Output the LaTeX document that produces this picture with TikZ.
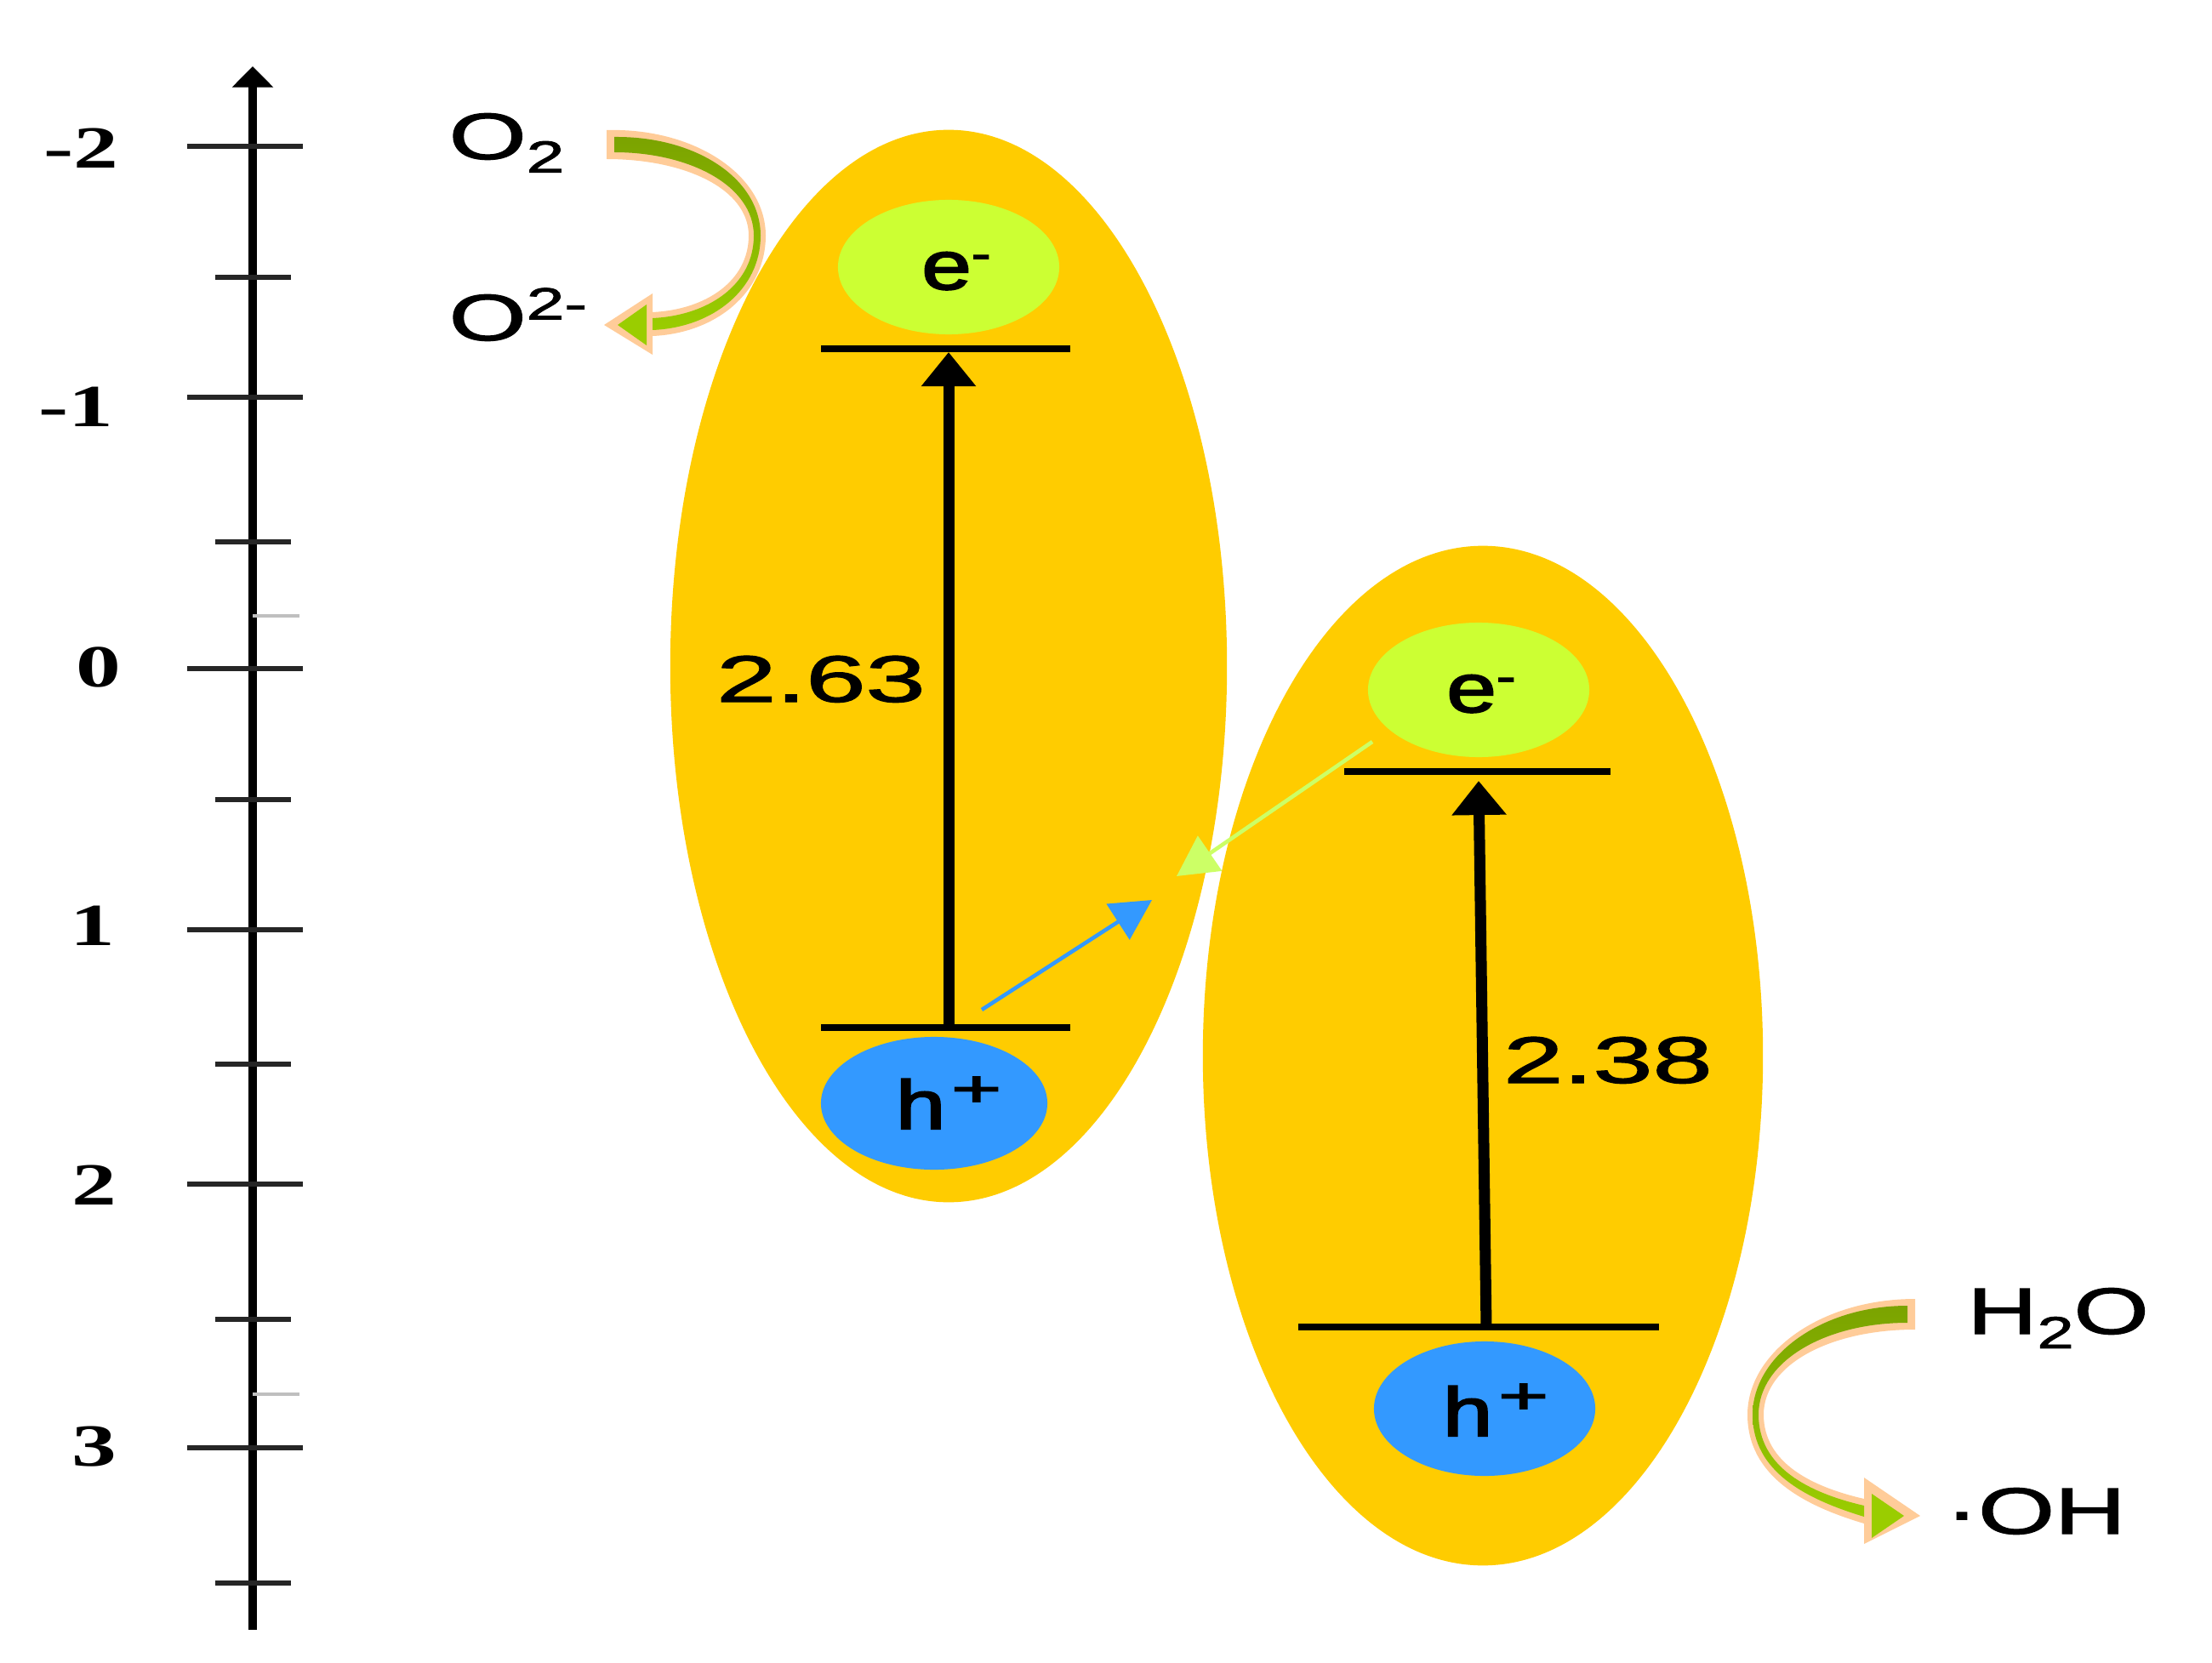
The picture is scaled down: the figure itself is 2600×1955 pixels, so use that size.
\documentclass[tikz,border=0pt]{standalone}
\usepackage{fontspec}
\setmainfont{Liberation Sans}
\newfontfamily\axisfont{Liberation Serif}
\newfontfamily\labfont{Liberation Sans}[FakeBold=1.5]
\newfontfamily\carfont{Liberation Sans}[FakeBold=2.5]
\usepackage{graphicx}
\usetikzlibrary{arrows.meta,shapes.geometric}
\definecolor{bandcol}{HTML}{FFCC00}
\definecolor{ecol}{HTML}{CCFF33}
\definecolor{hcol}{HTML}{3399FF}
\definecolor{peach}{HTML}{FFCC99}
\definecolor{gdark}{HTML}{7BA300}
\definecolor{glight}{HTML}{9ACD00}
\definecolor{limeline}{HTML}{CCFF66}
\newcommand{\sx}[2]{\scalebox{#1}[1]{#2}}
\begin{document}
\begin{tikzpicture}[x=0.01cm,y=-0.01cm,
  band/.style={ellipse, fill=bandcol, inner sep=0pt, draw=none},
  carrier/.style={ellipse, inner sep=0pt, draw=none},
  level/.style={line width=2.3pt, black},
  excite/.style={line width=3.7pt, -{Triangle[length=11.4pt,width=17.6pt]}},
  transfer/.style={line width=1.3pt, -{Triangle[length=13.5pt,width=14pt]}},
  tick/.style={line width=1.5pt, black!85},
  faint/.style={line width=1pt, black!25},
  axlabel/.style={anchor=east, inner sep=0pt, font=\axisfont\bfseries\fontsize{20}{20}\selectfont},
  chem/.style={inner sep=0pt, font=\labfont\fontsize{21.9}{22}\selectfont},
  carriertext/.style={inner sep=0pt, anchor=base, font=\carfont\fontsize{23}{23}\selectfont},
  gap/.style={inner sep=0pt, anchor=base, font=\labfont\fontsize{22}{22}\selectfont},
]
\useasboundingbox (0,0) rectangle (2600,1955);
\fill[white] (0,0) rectangle (2600,1955);

% semiconductor bands
\node[band, minimum width=6.54cm, minimum height=12.6cm] (bandA) at (1115,783) {};
\node[band, minimum width=6.58cm, minimum height=11.98cm] (bandB) at (1743,1241) {};

% carriers
\node[carrier, fill=ecol, minimum width=2.6cm, minimum height=1.58cm] (eA) at (1115,314) {};
\node[carrier, fill=hcol, minimum width=2.66cm, minimum height=1.56cm] (hA) at (1098,1297) {};
\node[carrier, fill=ecol, minimum width=2.6cm, minimum height=1.58cm] (eB) at (1738,811) {};
\node[carrier, fill=hcol, minimum width=2.6cm, minimum height=1.58cm] (hB) at (1745,1656) {};

% band levels
\coordinate (cbAl) at (965,410);  \coordinate (cbAr) at (1258,410);
\coordinate (vbAl) at (965,1208); \coordinate (vbAr) at (1258,1208);
\coordinate (cbBl) at (1580,907); \coordinate (cbBr) at (1893,907);
\coordinate (vbBl) at (1526,1560); \coordinate (vbBr) at (1950,1560);
\draw[level] (cbAl) -- (cbAr);
\draw[level] (vbAl) -- (vbAr);
\draw[level] (cbBl) -- (cbBr);
\draw[level] (vbBl) -- (vbBr);

% excitation arrows
\coordinate (exAs) at (1115,1208); \coordinate (exAe) at (1115,414);
\coordinate (exBs) at (1747,1560); \coordinate (exBe) at (1738,918);
\draw[excite] (exAs) -- (exAe);
\draw[excite] (exBs) -- (exBe);

% transfer arrows
\coordinate (hs) at (1154,1187); \coordinate (he) at (1354,1058);
\coordinate (es) at (1613,872);  \coordinate (ee) at (1383,1030);
\draw[transfer, hcol] (hs) -- (he);
\draw[transfer, limeline] (es) -- (ee);

% texts in the bands
\node[carriertext] (eAt) at (1124,340) {\sx{1.3}{e\raisebox{6.8pt}{\fontsize{15}{15}\selectfont -}}};
\node[carriertext] (eBt) at (1741,837) {\sx{1.3}{e\raisebox{6.8pt}{\fontsize{15}{15}\selectfont -}}};
\node[carriertext] (hAt) at (1115,1327) {\sx{1.3}{h\kern1.5pt\raisebox{7.6pt}{\fontsize{17}{17}\selectfont\sx{1.3}{+}}}};
\node[carriertext] (hBt) at (1758,1688) {\sx{1.3}{h\kern1.5pt\raisebox{7.6pt}{\fontsize{17}{17}\selectfont\sx{1.3}{+}}}};
\node[gap] (gA) at (965,825) {\sx{1.63}{2.63}};
\node[gap] (gB) at (1890,1273) {\sx{1.63}{2.38}};

% O2 reduction arrow
\fill[peach] (713,153) .. controls (815,150) and (900,205) .. (900,277)
  .. controls (900,345) and (840,392) .. (767,395)
  -- (767,367) .. controls (830,364) and (880,330) .. (880,277)
  .. controls (880,222) and (805,187) .. (713,187) -- cycle;
\fill[peach] (710,382) -- (767,345) -- (767,417) -- cycle;
\shade[top color=gdark, bottom color=glight] (722,161) .. controls (818,160) and (894,210) .. (894,277)
  .. controls (894,340) and (838,385) .. (767,388)
  -- (767,374) .. controls (832,371) and (886,335) .. (886,277)
  .. controls (886,218) and (810,179) .. (722,179) -- cycle;
\fill[glight] (726,382) -- (760,358) -- (760,406) -- cycle;

% H2O oxidation arrow
\fill[peach] (2251,1527) .. controls (2140,1527) and (2054,1590) .. (2054,1663)
  .. controls (2054,1735) and (2120,1770) .. (2191,1791)
  -- (2191,1762) .. controls (2130,1748) and (2073,1720) .. (2073,1663)
  .. controls (2073,1605) and (2150,1563) .. (2251,1563) -- cycle;
\fill[peach] (2257,1782) -- (2191,1737) -- (2191,1815) -- cycle;
\shade[top color=gdark, bottom color=glight] (2242,1535) .. controls (2140,1535) and (2060,1595) .. (2060,1663)
  .. controls (2060,1730) and (2122,1762) .. (2191,1783)
  -- (2191,1770) .. controls (2126,1755) and (2067,1725) .. (2067,1663)
  .. controls (2067,1600) and (2146,1555) .. (2242,1555) -- cycle;
\fill[glight] (2238,1782) -- (2200,1756) -- (2200,1808) -- cycle;

% species labels
\node[chem, anchor=base west] (o2) at (527,187) {\sx{1.52}{O\raisebox{-4.5pt}{\fontsize{15}{15}\selectfont 2}}};
\node[chem, anchor=base west] (o2m) at (527,400) {\sx{1.52}{O\raisebox{7pt}{\fontsize{15}{15}\selectfont 2-}}};
\node[chem, anchor=base west] (h2o) at (2312,1568) {\sx{1.47}{H\raisebox{-4.8pt}{\fontsize{15}{15}\selectfont 2}O}};
\node[chem, anchor=base west] (oh) at (2286,1803) {\sx{1.5}{·OH}};

% energy axis
\draw[line width=2.6pt, -{Triangle[length=7pt,width=13.4pt]}] (297,1916) -- (297,78);
\foreach \yy in {172,467,786,1093,1392,1702} \draw[tick] (220,\yy) -- (356,\yy);
\foreach \yy in {326,637,940,1251,1551,1861} \draw[tick] (253,\yy) -- (342,\yy);
\draw[faint] (297,724) -- (352,724);
\draw[faint] (297,1639) -- (352,1639);
\node[axlabel] (l1) at (140,174) {\sx{1.5}{-2}};
\node[axlabel] (l2) at (134,478) {\sx{1.5}{-1}};
\node[axlabel] (l3) at (143,784) {\sx{1.5}{0}};
\node[axlabel] (l4) at (136,1088) {\sx{1.5}{1}};
\node[axlabel] (l5) at (138,1393) {\sx{1.5}{2}};
\node[axlabel] (l6) at (138,1701) {\sx{1.5}{3}};
\end{tikzpicture}
\end{document}
